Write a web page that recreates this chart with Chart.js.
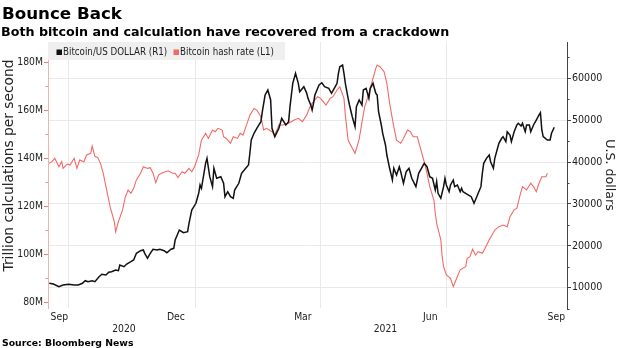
<!DOCTYPE html>
<html>
<head>
<meta charset="utf-8">
<script src="https://cdn.jsdelivr.net/npm/chart.js@4"></script>
<style>
  html, body { margin: 0; padding: 0; background: #fff; }
  #wrap { width: 620px; height: 348px; }
</style>
</head>
<body>
<div id="wrap"><canvas id="chart" width="620" height="348"></canvas></div>
<script>
// day numbers count from 1 Sep 2020 (day 0)
var hashDay = [16, 18, 20, 23, 25, 26, 29, 31, 34, 36, 38, 41, 43, 46, 47, 49, 51, 53, 55, 58,
  60, 63, 64, 66, 69, 71, 73, 75, 77, 79, 82, 84, 87, 89, 91, 93, 95, 97, 100, 102,
  105, 107, 109, 112, 114, 117, 119, 121, 124, 126, 129, 131, 134, 136, 138, 141, 142, 144, 147, 149,
  152, 154, 156, 159, 161, 164, 166, 169, 171, 173, 177, 179, 182, 185, 189, 193, 196, 199, 202, 205,
  207, 210, 212, 214, 216, 219, 221, 224, 226, 229, 230, 232, 235, 237, 240, 242, 244, 247, 249, 252,
  253, 255, 258, 260, 262, 265, 267, 270, 272, 275, 277, 279, 282, 284, 287, 289, 291, 294, 295, 296,
  299, 300, 301, 303, 306, 308, 311, 313, 317, 318, 320, 322, 324, 326, 329, 331, 334, 336, 338, 341,
  344, 347, 349, 352, 354, 356, 358, 361, 364, 366, 368, 370, 372, 375, 376];
// Bitcoin hash rate, millions of trillion calculations per second
var hashRate = [137.9, 138.6, 140.0, 136.5, 138.6, 135.8, 137.6, 137.2, 140.0, 135.8, 139.3, 138.6, 141.4, 142.1, 145.1, 140.7, 140.4, 137.9, 133.8, 125.4,
  119.8, 113.6, 109.4, 113.6, 118.5, 124.0, 126.8, 125.4, 127.5, 131.0, 133.8, 136.5, 135.8, 136.1, 133.8, 129.8, 133.0, 133.8, 134.4, 134.8,
  133.8, 133.8, 132.0, 134.4, 133.8, 135.8, 134.4, 136.5, 141.4, 147.6, 150.4, 148.3, 151.8, 151.1, 152.5, 151.8, 149.0, 148.3, 146.3, 149.0,
  148.3, 150.4, 149.7, 154.6, 158.0, 160.8, 160.1, 157.3, 151.8, 152.5, 151.1, 149.7, 153.9, 153.9, 154.6, 156.0, 156.7, 155.3, 158.0, 162.2,
  163.6, 165.7, 165.0, 163.6, 162.2, 165.0, 165.7, 168.5, 169.8, 165.0, 158.0, 147.6, 144.2, 142.1, 148.0, 155.0, 161.5, 167.1, 171.3, 177.5,
  178.9, 178.2, 176.1, 171.3, 162.9, 153.2, 147.6, 146.3, 148.3, 151.8, 151.1, 149.0, 149.0, 144.8, 138.6, 133.8, 128.2, 122.6, 117.1, 112.9,
  106.0, 99.0, 94.8, 91.4, 90.0, 86.5, 90.7, 93.5, 94.8, 98.3, 99.0, 102.1, 99.7, 101.1, 100.4, 102.5, 106.0, 108.0, 110.1, 111.5,
  112.2, 111.5, 115.7, 118.5, 119.2, 124.0, 128.2, 126.8, 129.6, 128.2, 126.1, 129.6, 132.3, 132.3, 133.8];

var priceDay = [16, 19, 23, 26, 30, 34, 37, 40, 42, 44, 47, 49, 52, 54, 57, 59, 61, 64, 66, 67,
  70, 72, 75, 77, 79, 82, 84, 85, 87, 89, 91, 94, 96, 99, 101, 104, 106, 107, 108, 110,
  113, 116, 117, 119, 122, 124, 125, 126, 129, 130, 132, 134, 135, 137, 140, 142, 143, 145, 147, 149,
  150, 153, 155, 158, 160, 161, 162, 164, 166, 169, 170, 172, 174, 176, 177, 179, 182, 184, 187, 189,
  190, 192, 194, 196, 197, 200, 202, 203, 205, 206, 207, 208, 211, 213, 215, 218, 220, 222, 224, 225,
  226, 228, 229, 230, 232, 233, 235, 237, 238, 240, 242, 243, 245, 247, 248, 250, 252, 253, 254, 256,
  257, 259, 260, 262, 264, 265, 267, 269, 270, 272, 274, 276, 278, 281, 283, 285, 287, 289, 291, 293,
  295, 296, 297, 299, 301, 302, 303, 305, 306, 308, 309, 311, 313, 314, 315, 317, 319, 321, 322, 323,
  325, 326, 328, 329, 330, 332, 334, 335, 337, 338, 340, 341, 343, 344, 346, 347, 349, 350, 352, 354,
  355, 357, 358, 360, 361, 363, 364, 366, 368, 370, 371, 372, 373, 376, 378, 379, 381];
// Bitcoin in US dollars
var price = [11050, 10880, 10240, 10640, 10810, 10640, 10640, 11050, 11670, 11430, 11670, 11430, 12630, 13200, 13030, 13680, 13820, 14220, 14060, 15420,
  15010, 15660, 16210, 16610, 18210, 18830, 19000, 18210, 17020, 18210, 19170, 19000, 19170, 18830, 18350, 19170, 19400, 21380, 22170, 23770,
  23130, 23370, 25370, 28540, 30140, 32530, 34510, 33720, 39690, 40880, 36490, 34110, 38500, 36110, 36490, 34920, 31720, 32910, 31720, 31340,
  33320, 34920, 37300, 38500, 39280, 42080, 45250, 46850, 48040, 49620, 52000, 55990, 57180, 54800, 48040, 46040, 48040, 50430, 48830, 49620,
  53200, 58780, 61170, 58780, 56780, 57970, 56500, 55200, 53600, 52410, 54010, 55990, 58380, 58920, 57970, 57590, 56400, 57590, 58780, 61170,
  62740, 63150, 61170, 58780, 55200, 53600, 50810, 48430, 53200, 54800, 53600, 57180, 57590, 55200, 57590, 58780, 56400, 55990, 52000, 48830,
  46850, 44060, 41670, 38500, 35700, 38500, 36900, 38880, 37690, 34920, 37690, 38500, 36110, 34110, 37300, 38500, 39690, 38880, 36490, 36110,
  33320, 35310, 32530, 31340, 34110, 36110, 34510, 32910, 34510, 35700, 34110, 34510, 32910, 33720, 32910, 32530, 32120, 31720, 30930, 30140,
  31720, 32530, 34110, 37300, 39690, 40880, 41670, 40070, 38500, 40880, 43270, 44460, 45660, 46040, 44850, 47230, 46440, 44850, 47230, 48830,
  49240, 48590, 49240, 47230, 48830, 48830, 47230, 48830, 50020, 51220, 51770, 47640, 46040, 45250, 45250, 46850, 48280];

var leftTicks = [80, 100, 120, 140, 160, 180];
var leftMinor = [90, 110, 130, 150, 170];
var rightTicks = [10000, 20000, 30000, 40000, 50000, 60000];
var rightMinor = [5000, 15000, 25000, 35000, 45000, 55000, 65000];
var gridDays = [30, 122, 212, 303];          // 1 Oct, 1 Jan, 1 Apr, 1 Jul
var monthDays = [23.3, 107.5, 199.3, 291.4, 382.5];
var monthLabels = ['Sep', 'Dec', 'Mar', 'Jun', 'Sep'];
var yearDays = [70, 259];
var yearLabels = ['2020', '2021'];

var BLACK = '#111111';
var RED = '#f26a66';
var AXIS_FONT = "'DejaVu Sans Condensed', 'DejaVu Sans', sans-serif";

function pts(days, vals) {
    return days.map(function(d, i) { return { x: d, y: vals[i] }; });
}

function setTicks(list) {
    return function(scale) {
        scale.ticks = list.map(function(v) { return { value: v }; });
    };
}

// months on the first line, years on the second
var labelDays = monthDays.concat(yearDays).sort(function(a, b) { return a - b; });
function dateLabel(value) {
    var m = monthDays.indexOf(value);
    if (m >= 0) return [monthLabels[m], ''];
    var y = yearDays.indexOf(value);
    return y >= 0 ? ['', yearLabels[y]] : '';
}

// title, legend, axis titles, minor ticks, source
var decor = {
    id: 'decor',
    afterDraw: function(chart) {
        var c = chart.ctx;
        var yL = chart.scales.y, yR = chart.scales.y1;
        c.save();

        c.fillStyle = '#000';
        c.textBaseline = 'alphabetic';
        c.textAlign = 'left';
        c.font = "bold 16.7px 'DejaVu Sans'";
        c.fillText('Bounce Back', 2, 18.5);
        c.font = "bold 12.7px 'DejaVu Sans'";
        c.fillText('Both bitcoin and calculation have recovered from a crackdown', 1, 35.5);
        c.font = "bold 9.3px 'DejaVu Sans'";
        c.fillText('Source: Bloomberg News', 2, 345.5);

        // legend
        c.fillStyle = '#efefef';
        c.fillRect(48, 42, 237, 18);
        c.font = '9.7px ' + AXIS_FONT;
        c.textBaseline = 'middle';
        var ds = chart.data.datasets;
        var lx = [56.5, 173.5];
        ds.forEach(function(d, i) {
            c.fillStyle = d.borderColor;
            c.fillRect(lx[i], 49.5, 5.5, 5.5);
            c.fillStyle = '#222';
            c.fillText(d.label, lx[i] + 6.5, 52.5);
        });

        // minor ticks
        c.lineWidth = 1;
        c.strokeStyle = '#f29a98';
        leftMinor.forEach(function(v) {
            var p = Math.round(yL.getPixelForValue(v)) + 0.5;
            c.beginPath(); c.moveTo(yL.right - 2.5, p); c.lineTo(yL.right, p); c.stroke();
        });
        c.strokeStyle = '#444';
        rightMinor.forEach(function(v) {
            var p = Math.round(yR.getPixelForValue(v)) + 0.5;
            c.beginPath(); c.moveTo(yR.left, p); c.lineTo(yR.left + 2.5, p); c.stroke();
        });

        // axis titles
        c.fillStyle = '#222';
        c.textAlign = 'center';
        c.textBaseline = 'middle';
        c.save();
        c.translate(9.5, 165.5);
        c.rotate(-Math.PI / 2);
        c.font = "13.8px 'DejaVu Sans'";
        c.fillText('Trillion calculations per second', 0, 0);
        c.restore();
        c.save();
        c.translate(609, 175);
        c.rotate(Math.PI / 2);
        c.font = "12.6px 'DejaVu Sans'";
        c.fillText('U.S. dollars', 0, 0);
        c.restore();

        c.restore();
    }
};

var ctx = document.getElementById('chart');
var chart = new Chart(ctx, {
    type: 'line',
    data: {
        datasets: [{
            label: 'Bitcoin/US DOLLAR (R1)',
            data: pts(priceDay, price),
            yAxisID: 'y1',
            borderColor: BLACK,
            backgroundColor: BLACK,
            borderWidth: 1.5,
            pointRadius: 0,
            tension: 0
        },
        {
            label: 'Bitcoin hash rate (L1)',
            data: pts(hashDay, hashRate),
            yAxisID: 'y',
            borderColor: RED,
            backgroundColor: RED,
            borderWidth: 1.1,
            pointRadius: 0,
            tension: 0
        }]
    },
    options: {
        responsive: false,
        animation: false,
        devicePixelRatio: 1,
        layout: { padding: { top: 42, left: 0, right: 0, bottom: 13 } },
        plugins: {
            legend: { display: false },
            title: { display: false },
            tooltip: { enabled: false }
        },
        scales: {
            x: {
                type: 'linear', position: 'bottom', weight: 0,
                min: 15.1, max: 390.2,
                afterBuildTicks: setTicks(gridDays),
                afterFit: function(s) { s.height = 0; },
                ticks: { display: false },
                grid: { color: '#e9e9e9', drawTicks: false },
                border: { display: false }
            },
            xLabel: {
                type: 'linear', position: 'bottom', weight: 1,
                min: 15.1, max: 390.2,
                afterBuildTicks: setTicks(labelDays),
                afterFit: function(s) { s.height = 27; },
                ticks: {
                    autoSkip: false, maxRotation: 0, padding: 3,
                    color: '#222',
                    font: { family: AXIS_FONT, size: 10.3, lineHeight: 1.21 },
                    callback: dateLabel
                },
                grid: { display: false, drawTicks: false },
                border: { display: false }
            },
            y: {
                type: 'linear', position: 'left',
                min: 77.6, max: 188.5,
                afterBuildTicks: setTicks(leftTicks),
                afterFit: function(s) { s.width = 48; },
                ticks: {
                    padding: 1, color: '#222',
                    font: { family: AXIS_FONT, size: 10.3 },
                    callback: function(v) { return v + 'M'; }
                },
                grid: { drawOnChartArea: false, tickLength: 4, tickColor: '#f07a78' },
                border: { color: '#f6b0ae' }
            },
            y1: {
                type: 'linear', position: 'right',
                min: 5155, max: 68640,
                afterBuildTicks: setTicks(rightTicks),
                afterFit: function(s) { s.width = 53; },
                ticks: {
                    padding: 1, color: '#222',
                    font: { family: AXIS_FONT, size: 10.6 },
                    callback: function(v) { return String(v); }
                },
                grid: { color: '#e9e9e9', tickLength: 4, tickColor: '#444' },
                border: { color: '#444' }
            }
        }
    },
    plugins: [decor]
});
</script>
</body>
</html>
